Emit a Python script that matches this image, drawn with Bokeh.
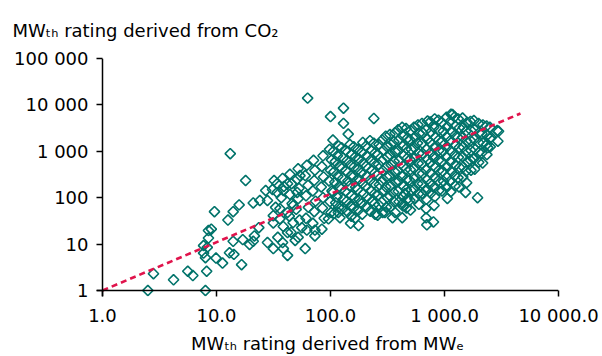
import numpy as np
from bokeh.plotting import figure
from bokeh.models import Range1d, FixedTicker, Span, CustomJSTickFormatter
from bokeh.embed import file_html
from bokeh.resources import INLINE

# ---- data: MWth derived from MWe (x) vs MWth derived from CO2 (y) ----
sparse_x = [
    2.5, 2.8, 4.2, 5.6, 6.2, 8.0, 8.2, 8.0, 7.7, 7.7, 8.5, 8.3, 8.5, 9.0, 9.6, 9.9, 11.3,
    13.0, 14.2, 16.6, 14.0, 17.0, 19.5, 21.0, 21.5, 12.6, 14.0, 15.8, 21.0, 24.0, 28.0,
    27.0, 34.0, 38.6, 51.0, 23.5, 28.0, 31.5, 38.6, 34.5, 31.5, 42.0, 36.0, 42.0, 31.5,
    36.0, 42.0, 47.0, 47.0, 49.0, 38.0,
    13.2, 18.0, 34.0, 42.0, 54.0, 63.0, 100.0, 130.0, 240.0, 130.0, 143.0, 105.0,
    1175.0, 2900.0, 2500.0, 2400.0,
    60, 176, 150, 300, 250, 350, 117, 73, 56, 96, 426, 430, 690, 690, 700, 800, 810,
    1060, 1530, 1950, 680, 450,
]
sparse_y = [
    1.0, 2.3, 1.7, 2.6, 2.1, 1.0, 2.6, 5.1, 6.4, 9.3, 13.5, 8.5, 19.6, 21, 50, 5.0, 3.9,
    6.5, 6.0, 3.6, 11.5, 12.5, 9.8, 11.5, 15, 33, 50, 70, 77, 87, 87,
    143, 130, 143, 130, 22.6, 10.8, 8.0, 8.0, 14, 28.5, 5.7, 35, 17.7, 41,
    58, 48, 29, 68, 12, 10.8,
    890, 235, 200, 200, 300, 14000, 5600, 8500, 5100, 4000, 2350, 1750,
    6200, 2800, 1900, 1200,
    8, 25, 28, 48, 45, 37, 48, 20, 22.6, 35, 37, 75, 58, 37, 26, 30, 68,
    96, 130, 100, 143, 123,
]

cloud_x = [
    32, 31, 33,
    38, 39, 37, 38.5,
    44, 45.5, 44, 46, 43.5, 45,
    52, 51, 53, 52, 50, 53.5, 52,
    62, 60, 63.5, 61, 64, 61, 62,
    71, 73, 72, 70, 74, 72, 70, 73,
    86, 84, 87, 83, 86, 85, 88, 84,
    98, 102, 100, 97, 103, 99, 101,
    118, 115, 120, 116, 119, 114, 118, 121,
    136, 140, 137, 142, 135, 139, 141,
    160, 165, 161, 158, 166, 163, 159, 164,
    192, 188, 194, 186, 191, 195, 187, 190,
    222, 228, 224, 230, 221, 226, 232, 223,
    266, 260, 264, 258, 268, 262, 265, 259,
    305, 312, 315, 308, 311, 306, 314, 309,
    368, 360, 370, 362, 366, 372, 358, 364, 369,
    425, 435, 428, 438, 432, 424, 436, 429, 433,
    505, 495, 510, 498, 502, 492, 508, 497, 503,
    585, 600, 580, 595, 588, 598, 583, 592, 596,
    710, 690, 705, 695, 712, 688, 702, 708, 694,
    820, 805, 830, 812, 800, 825, 818, 808, 822,
    950, 975, 955, 970, 945, 965, 980, 952,
    1140, 1120, 1150, 1110, 1135, 1125, 1145, 1115, 1138,
    1320, 1350, 1310, 1345, 1325, 1355, 1315, 1340,
    1580, 1540, 1570, 1550, 1590, 1545, 1565,
    1810, 1850, 1820, 1860, 1800, 1840,
    2170, 2130, 2180, 2120, 2160,
    2500, 2560, 2520,
    2980, 2940,
]
cloud_y = [
    235, 150, 62,
    260, 175, 100, 24,
    320, 200, 118, 75, 40, 18,
    420, 250, 160, 95, 56, 33, 14,
    500, 300, 185, 110, 62, 36, 20,
    640, 390, 235, 140, 84, 50, 28, 15,
    800, 470, 280, 170, 100, 60, 36, 21,
    1100, 650, 390, 230, 140, 82, 48,
    1300, 800, 480, 290, 175, 104, 62, 37,
    1050, 640, 380, 230, 138, 84, 50,
    1250, 760, 460, 280, 170, 100, 60, 36,
    1550, 950, 560, 340, 205, 122, 74, 44,
    1700, 1050, 640, 390, 235, 140, 85, 51,
    1400, 850, 520, 310, 190, 115, 70, 42,
    2100, 1260, 760, 460, 280, 170, 102, 62,
    2500, 1600, 980, 600, 360, 215, 130, 80, 48,
    3300, 2100, 1300, 800, 480, 290, 175, 106, 66,
    2800, 1800, 1100, 660, 400, 240, 145, 88, 54,
    3700, 2400, 1500, 900, 550, 330, 200, 122, 72,
    4500, 2900, 1800, 1100, 660, 400, 240, 150, 92,
    5000, 3300, 2000, 1200, 740, 450, 270, 165, 105,
    4200, 2700, 1650, 1000, 610, 370, 225, 140,
    6300, 4400, 2700, 1650, 1000, 600, 370, 225, 135,
    5000, 3200, 2000, 1200, 740, 450, 270, 170,
    4200, 2700, 1650, 1000, 600, 370, 210,
    4600, 3000, 1800, 1100, 680, 410,
    3700, 2400, 1500, 920, 560,
    3300, 2000, 1250,
    2700, 1650,
]

core_x = [
    106, 110, 107, 109, 105, 111, 108,
    125, 129, 126, 128, 124, 130, 127,
    148, 152, 149, 151, 147, 153, 150, 152,
    174, 178, 175, 177, 173, 179, 176,
    205, 209, 206, 208, 204, 210, 207,
    240, 246, 242, 245, 241, 244, 243, 246,
    284, 289, 283, 288, 285, 290, 282, 287,
    332, 338, 334, 340, 331, 337, 333, 339,
    392, 398, 394, 400, 391, 397, 393, 399,
    460, 470, 463, 468, 461, 467, 462, 469, 464,
    540, 550, 543, 548, 541, 547, 544, 549,
    635, 645, 638, 643, 636, 642, 639, 644,
    750, 760, 752, 758, 751, 757, 753, 759,
    885, 895, 888, 893, 886, 892, 887, 894,
    1040, 1060, 1045, 1055, 1042, 1058, 1048, 1053,
    1225, 1245, 1230, 1240, 1228, 1242, 1232, 1238,
    1440, 1460, 1445, 1455, 1442, 1458, 1448,
    1690, 1710, 1695, 1705, 1692, 1708,
    1990, 2010, 1995, 2005, 1998,
    2340, 2360, 2345, 2355,
]
core_y = [
    1000, 600, 360, 215, 130, 78, 46,
    1200, 720, 430, 260, 155, 94, 56,
    1400, 850, 510, 300, 180, 110, 66, 40,
    1100, 680, 410, 250, 150, 90, 54,
    1300, 800, 480, 290, 175, 105, 63,
    1500, 920, 560, 340, 205, 122, 74, 44,
    1750, 1050, 620, 380, 225, 135, 80, 48,
    2300, 1400, 840, 510, 300, 180, 108, 64,
    2900, 1750, 1050, 640, 380, 230, 138, 82,
    3100, 1900, 1150, 700, 420, 250, 150, 92, 60,
    3300, 2000, 1200, 720, 430, 260, 155, 95,
    4000, 2500, 1500, 900, 540, 330, 200, 120,
    4300, 2600, 1560, 950, 570, 340, 205, 125,
    4700, 2900, 1750, 1050, 640, 390, 235, 142,
    5400, 3400, 2050, 1250, 760, 460, 280, 170,
    5500, 3500, 2200, 1350, 820, 500, 300, 180,
    5200, 3300, 2000, 1250, 760, 460, 280,
    4400, 2800, 1700, 1050, 640, 390,
    4000, 2500, 1550, 950, 580,
    3500, 2200, 1400, 850,
]

trend_x = [1, 4640]
trend_y = [1, 6530]

x_ticks = [1, 10, 100, 1000, 10000]
x_tick_labels = ["1.0", "10.0", "100.0", "1 000.0", "10 000.0"]
y_ticks = [1, 10, 100, 1000, 10000, 100000]
y_tick_labels = ["1", "10", "100", "1 000", "10 000", "100 000"]

title_text = "MW\u209c\u2095 rating derived from CO\u2082"
x_title_text = "MW\u209c\u2095 rating derived from MW\u2091"

# ---- styling ----
TEAL = "#00736A"
RED = "#E0144C"
FONT = "DejaVu Sans"
PX_PER_DEC_X = 114.0
PX_PER_DEC_Y = 46.4
PAD = 6  # px of room below / left of the axes so edge markers are not cut

p = figure(
    width=602, height=356,
    x_axis_type="log", y_axis_type="log",
    x_range=Range1d(10 ** (-PAD / PX_PER_DEC_X), 10000),
    y_range=Range1d(10 ** (-PAD / PX_PER_DEC_Y), 100000),
    output_backend="svg", toolbar_location=None,
    min_border_left=96, min_border_right=44, min_border_top=58, min_border_bottom=60,
)
p.outline_line_color = None
p.xgrid.visible = False
p.ygrid.visible = False
p.background_fill_color = "white"
p.border_fill_color = "white"

p.title.text = title_text
p.title.text_font = FONT
p.title.text_font_size = "18px"
p.title.text_font_style = "normal"
p.title.text_color = "black"
p.title.align = "left"
p.title.offset = 12 - 96
p.title.standoff = 35

fmt_code = """
const i = tick_values.findIndex(t => Math.abs(t - tick) <= 1e-6 * t);
return i >= 0 ? tick_names[i] : "";
"""
for ax, ticks, labels in ((p.xaxis[0], x_ticks, x_tick_labels),
                          (p.yaxis[0], y_ticks, y_tick_labels)):
    ax.ticker = FixedTicker(ticks=ticks, minor_ticks=[])
    ax.formatter = CustomJSTickFormatter(
        args=dict(tick_values=ticks, tick_names=labels), code=fmt_code)
    ax.axis_line_color = None
    ax.major_tick_line_color = "black"
    ax.major_tick_line_width = 1.5
    ax.major_tick_in = PAD
    ax.major_tick_out = 0
    ax.minor_tick_line_color = None
    ax.major_label_text_font = FONT
    ax.major_label_text_font_size = "18px"
    ax.major_label_text_color = "black"

p.xaxis.major_label_standoff = 8
p.yaxis.major_label_standoff = 8
p.xaxis.axis_label = x_title_text
p.xaxis.axis_label_text_font = FONT
p.xaxis.axis_label_text_font_size = "18px"
p.xaxis.axis_label_text_font_style = "normal"
p.xaxis.axis_label_text_color = "black"
p.xaxis.axis_label_standoff = 4

# axis lines through the value 1 on each axis
p.add_layout(Span(location=1, dimension="width", line_color="black", line_width=1.5))
p.add_layout(Span(location=1, dimension="height", line_color="black", line_width=1.5))

all_x = sparse_x + cloud_x + core_x
all_y = sparse_y + cloud_y + core_y
p.scatter(all_x, all_y, marker="square", angle=np.pi / 4, size=7.3,
          fill_color=None, line_color=TEAL, line_width=1.6)
p.line(trend_x, trend_y, line_color=RED, line_width=2.6, line_dash="6 4")

open("out.html", "w").write(file_html(p, INLINE))
